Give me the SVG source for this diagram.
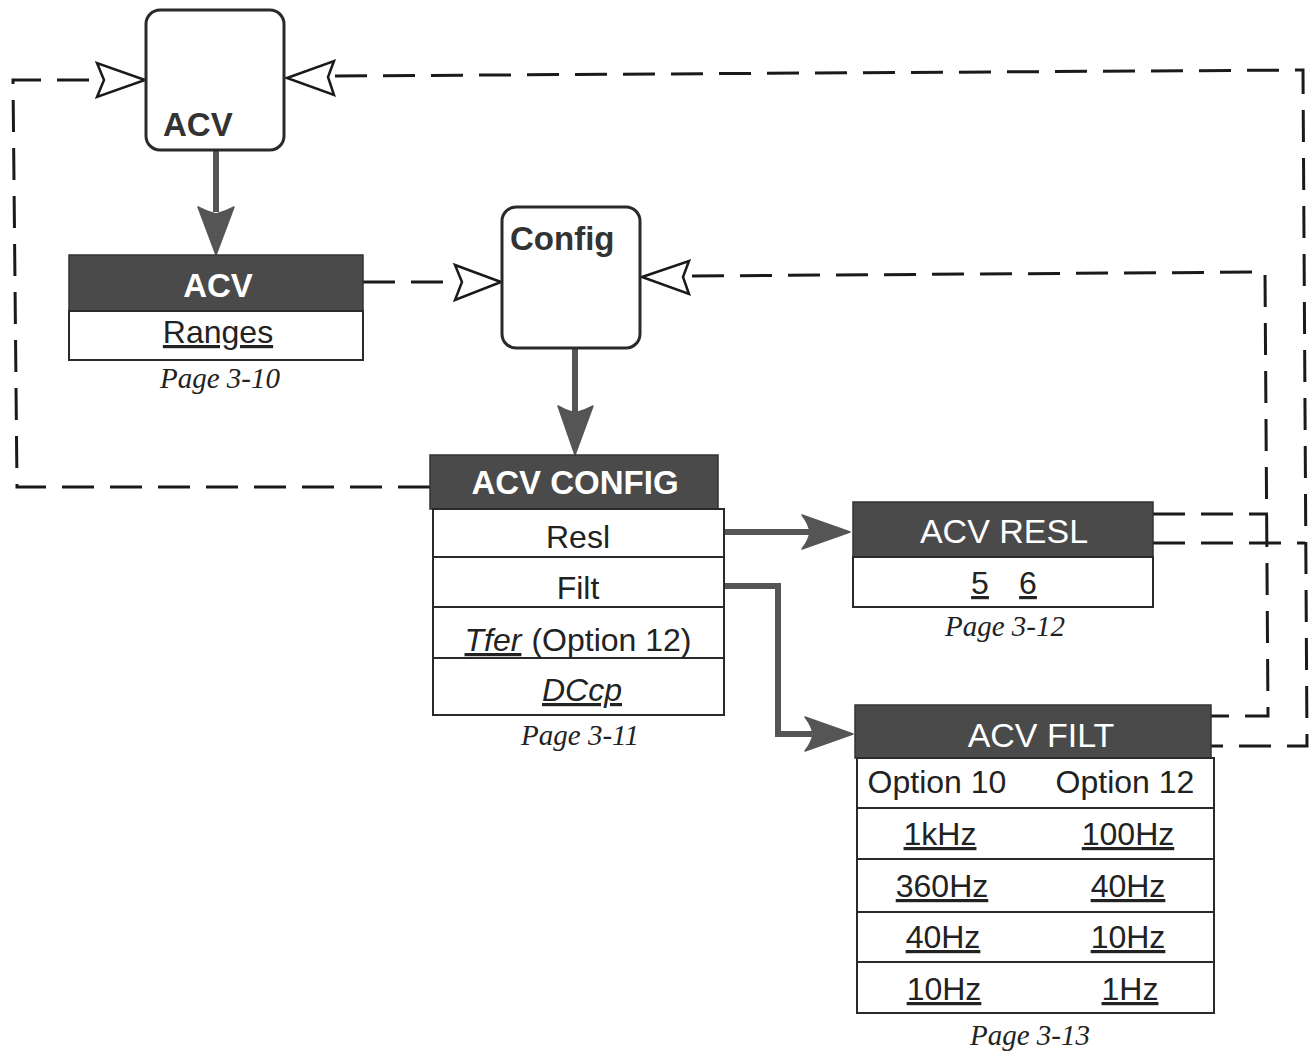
<svg xmlns="http://www.w3.org/2000/svg" width="1316" height="1055" viewBox="0 0 1316 1055">
<defs>
<style>
.bg{fill:#ffffff}
.rbox{fill:#ffffff;stroke:#2a2a2a;stroke-width:3}
.hdr{fill:#4a4a4a;stroke:#333;stroke-width:1.5}
.row{fill:#ffffff;stroke:#2a2a2a;stroke-width:2}
.div{stroke:#2a2a2a;stroke-width:2}
.dash{fill:none;stroke:#1a1a1a;stroke-width:3;stroke-dasharray:32 16}
.solid{fill:none;stroke:#555;stroke-width:6}
.head{fill:#555;stroke:#555;stroke-width:1.5;stroke-linejoin:round}
.open{fill:#ffffff;stroke:#1a1a1a;stroke-width:2.5;stroke-linejoin:miter}
.bt{font-family:"Liberation Sans",Arial,sans-serif;font-weight:bold;font-size:33px;fill:#333}
.ht{font-family:"Liberation Sans",Arial,sans-serif;font-weight:bold;font-size:33px;fill:#ffffff;text-anchor:middle}
.hn{font-family:"Liberation Sans",Arial,sans-serif;font-size:34px;fill:#ffffff;text-anchor:middle}
.rt{font-family:"Liberation Sans",Arial,sans-serif;font-size:32px;fill:#222;text-anchor:middle}
.u{text-decoration:underline}
.pg{font-family:"Liberation Serif","Times New Roman",serif;font-style:italic;font-size:29px;fill:#222;text-anchor:middle}
</style>
</defs>
<rect class="bg" x="0" y="0" width="1316" height="1055"/>

<g id="connectors">
  <!-- dashed loops -->
  <polyline class="dash" points="430,487 17,487 13,80 97,80"/>
  <polyline class="dash" points="335,76 1303,70 1307,746 1211,746"/>
  <polyline class="dash" points="692,276 1265,272 1268,716 1211,716"/>
  <polyline class="dash" points="1153,514 1268,514"/>
  <polyline class="dash" points="1153,543 1305,543"/>
  <polyline class="dash" points="363,282 455,282"/>
  <!-- open arrowheads -->
  <path class="open" d="M145,80 L97,63 L104,80 L97,97 Z"/>
  <path class="open" d="M287,78 L334,61 L328,77 L334,95 Z"/>
  <path class="open" d="M501,282 L455,265 L462,282 L455,300 Z"/>
  <path class="open" d="M642,277 L689,261 L683,277 L689,294 Z"/>
  <!-- solid arrows -->
  <line class="solid" x1="216" y1="150" x2="216" y2="212"/>
  <path class="head" d="M216,255 L198,207 Q207,212 216,214 Q225,212 234,207 Z"/>
  <line class="solid" x1="575" y1="348" x2="575" y2="412"/>
  <path class="head" d="M575,455 L558,406 Q566,411 575,413 Q584,411 593,406 Z"/>
  <line class="solid" x1="722" y1="532" x2="810" y2="532"/>
  <path class="head" d="M850,532 L802,515 Q809,524 810,532 Q809,540 802,549 Z"/>
  <polyline class="solid" points="722,586 778,586 778,734 812,734"/>
  <path class="head" d="M853,734 L805,717 Q812,726 813,734 Q812,742 805,751 Z"/>
</g>

<g id="node-acv-softkey">
  <rect class="rbox" x="146" y="10" width="138" height="140" rx="14"/>
  <text class="bt" x="163" y="136">ACV</text>
</g>

<g id="node-config-softkey">
  <rect class="rbox" x="502" y="207" width="138" height="141" rx="14"/>
  <text class="bt" x="510" y="250">Config</text>
</g>

<g id="node-acv-menu">
  <rect class="hdr" x="69" y="255" width="294" height="56"/>
  <rect class="row" x="69" y="311" width="294" height="49"/>
  <text class="ht" x="218" y="297">ACV</text>
  <text class="rt u" x="218" y="343">Ranges</text>
  <text class="pg" x="220" y="388">Page 3-10</text>
</g>

<g id="node-acv-config">
  <rect class="hdr" x="430" y="455" width="288" height="54"/>
  <rect class="row" x="433" y="509" width="291" height="206"/>
  <line class="div" x1="433" y1="557" x2="724" y2="557"/>
  <line class="div" x1="433" y1="607" x2="724" y2="607"/>
  <line class="div" x1="433" y1="658" x2="724" y2="658"/>
  <text class="ht" x="575" y="494">ACV CONFIG</text>
  <text class="rt" x="578" y="548">Resl</text>
  <text class="rt" x="578" y="599">Filt</text>
  <text class="rt" x="578" y="651"><tspan class="u" font-style="italic">Tfer</tspan><tspan dx="10">(Option 12)</tspan></text>
  <text class="rt u" x="582" y="701" font-style="italic">DCcp</text>
  <text class="pg" x="580" y="745">Page 3-11</text>
</g>

<g id="node-acv-resl">
  <rect class="hdr" x="853" y="502" width="300" height="55"/>
  <rect class="row" x="853" y="557" width="300" height="50"/>
  <text class="hn" x="1004" y="543">ACV RESL</text>
  <text class="rt u" x="980" y="594">5</text>
  <text class="rt u" x="1028" y="594">6</text>
  <text class="pg" x="1005" y="636">Page 3-12</text>
</g>

<g id="node-acv-filt">
  <rect class="hdr" x="855" y="705" width="356" height="53"/>
  <rect class="row" x="857" y="758" width="357" height="255"/>
  <line class="div" x1="857" y1="808" x2="1214" y2="808"/>
  <line class="div" x1="857" y1="859" x2="1214" y2="859"/>
  <line class="div" x1="857" y1="912" x2="1214" y2="912"/>
  <line class="div" x1="857" y1="962" x2="1214" y2="962"/>
  <text class="hn" x="1041" y="747">ACV FILT</text>
  <text class="rt" x="937" y="793" font-size="33">Option 10</text>
  <text class="rt" x="1125" y="793" font-size="33">Option 12</text>
  <text class="rt u" x="940" y="845">1kHz</text>
  <text class="rt u" x="1128" y="845">100Hz</text>
  <text class="rt u" x="942" y="897">360Hz</text>
  <text class="rt u" x="1128" y="897">40Hz</text>
  <text class="rt u" x="943" y="948">40Hz</text>
  <text class="rt u" x="1128" y="948">10Hz</text>
  <text class="rt u" x="944" y="1000">10Hz</text>
  <text class="rt u" x="1130" y="1000">1Hz</text>
  <text class="pg" x="1030" y="1045">Page 3-13</text>
</g>
</svg>
